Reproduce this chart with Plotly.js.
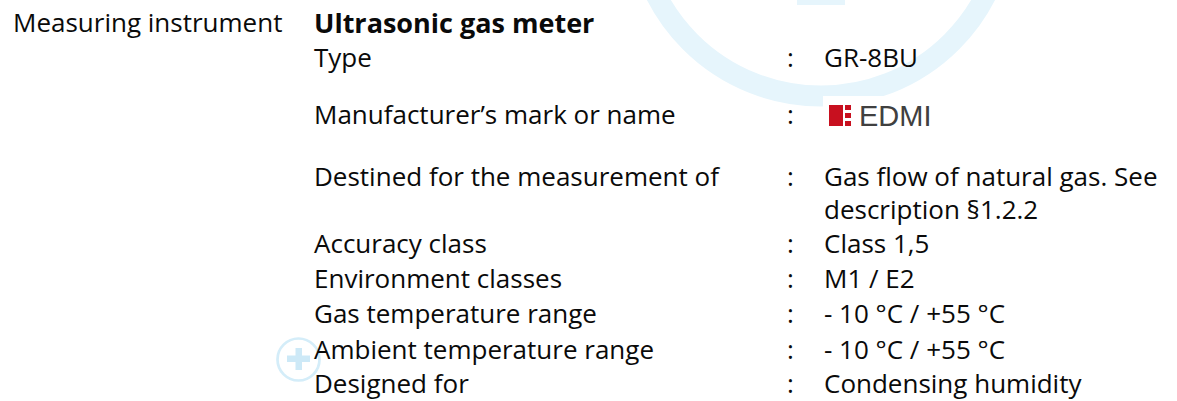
<!DOCTYPE html>
<html>
<head>
<meta charset="utf-8">
<script src="https://cdn.plot.ly/plotly-3.0.1.min.js"></script>
<style>
  html, body { margin: 0; padding: 0; background: #ffffff; }
  #chart { width: 1177px; height: 401px; }
</style>
</head>
<body>
<div id="chart"></div>
<script>
// ---- content ----
const sectionLabel = "Measuring instrument";
const instrumentName = "Ultrasonic gas meter";
const rowLabels = [
  "Type",
  "Manufacturer’s mark or name",
  "Destined for the measurement of",
  "",
  "Accuracy class",
  "Environment classes",
  "Gas temperature range",
  "Ambient temperature range",
  "Designed for"
];
const rowValues = [
  "GR-8BU",
  "",                       // logo drawn below
  "Gas flow of natural gas. See",
  "description §1.2.2",
  "Class 1,5",
  "M1 / E2",
  "- 10 °C / +55 °C",
  "- 10 °C / +55 °C",
  "Condensing humidity"
];
const logoText = "EDMI";

// ---- layout constants (pixel-like axis units, cap-height centres) ----
const W = 1177, H = 401;
const rowY = [58, 115, 176.5, 210, 243.5, 278.5, 314, 349.5, 384];
const headerY = 23;
const col1X = 11, col2X = 312, colonX = 785, valueX = 822;
const FONT = "Open Sans, Noto Sans, sans-serif";
const FS = 26;

const annotations = [];
function addText(x, capY, text, opts) {
  annotations.push(Object.assign({
    x: x, y: capY - 0.8, xref: "x", yref: "y",
    text: text, showarrow: false,
    xanchor: "left", yanchor: "middle",
    font: {family: FONT, size: FS, color: "#0a0a0a"}
  }, opts || {}));
}

addText(col1X, headerY, sectionLabel);
addText(col2X, headerY, "<b>" + instrumentName + "</b>", {font: {family: FONT, size: 27, color: "#0a0a0a"}});
rowLabels.forEach((lab, i) => {
  if (lab) {
    addText(col2X, rowY[i], lab);
    addText(colonX, rowY[i], ":");
  }
  if (rowValues[i]) addText(valueX, rowY[i], rowValues[i]);
});

// logo text
annotations.push({
  x: 857, y: 116, xref: "x", yref: "y", text: logoText, showarrow: false,
  xanchor: "left", yanchor: "middle",
  font: {family: "Liberation Sans, Arial, sans-serif", size: 29, color: "#404040"}
});

const wm = "#e6f5fc";
const shapes = [
  // big watermark ring + plus bar
  {type: "circle", xref: "x", yref: "y", layer: "below",
   x0: 821 - 185, x1: 821 + 185, y0: -89 - 185, y1: -89 + 185,
   line: {color: wm, width: 21}, fillcolor: "rgba(0,0,0,0)"},
  {type: "rect", xref: "x", yref: "y", layer: "below",
   x0: 797, x1: 845, y0: -120, y1: 5, line: {width: 0}, fillcolor: wm},
  // white logo background
  {type: "rect", xref: "x", yref: "y", layer: "below",
   x0: 823, x1: 945, y0: 96, y1: 136, line: {width: 0}, fillcolor: "#ffffff"},
  // logo red block and dots
  {type: "rect", xref: "x", yref: "y", x0: 829, x1: 843, y0: 105, y1: 126,
   line: {width: 0}, fillcolor: "#c8101f"},
  {type: "rect", xref: "x", yref: "y", x0: 845, x1: 851, y0: 105, y1: 110,
   line: {width: 0}, fillcolor: "#c8101f"},
  {type: "rect", xref: "x", yref: "y", x0: 845, x1: 851, y0: 113, y1: 118,
   line: {width: 0}, fillcolor: "#c8101f"},
  {type: "rect", xref: "x", yref: "y", x0: 845, x1: 851, y0: 121, y1: 126,
   line: {width: 0}, fillcolor: "#c8101f"},
  // small watermark circle with plus
  {type: "circle", xref: "x", yref: "y", layer: "below",
   x0: 298.5 - 21, x1: 298.5 + 21, y0: 359.5 - 21, y1: 359.5 + 21,
   line: {color: "#d4edf9", width: 2.7}, fillcolor: "rgba(0,0,0,0)"},
  {type: "rect", xref: "x", yref: "y", layer: "below",
   x0: 287, x1: 310, y0: 355.5, y1: 362, line: {width: 0}, fillcolor: "#cde9f7"},
  {type: "rect", xref: "x", yref: "y", layer: "below",
   x0: 295.5, x1: 302, y0: 348, y1: 370, line: {width: 0}, fillcolor: "#cde9f7"}
];

const layout = {
  width: W, height: H,
  margin: {l: 0, r: 0, t: 0, b: 0, pad: 0},
  paper_bgcolor: "#ffffff", plot_bgcolor: "#ffffff",
  showlegend: false, hovermode: false,
  xaxis: {range: [0, W], visible: false, fixedrange: true},
  yaxis: {range: [H, 0], visible: false, fixedrange: true},
  annotations: annotations,
  shapes: shapes
};

Plotly.newPlot("chart", [{x: [], y: [], type: "scatter", mode: "markers"}], layout,
  {displayModeBar: false, staticPlot: true});
</script>
</body>
</html>
